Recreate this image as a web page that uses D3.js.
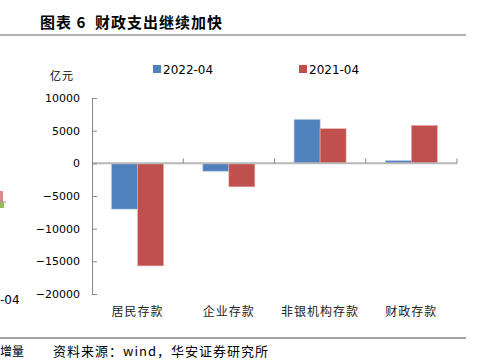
<!DOCTYPE html>
<meta charset="utf-8">
<style>
  html, body { margin: 0; padding: 0; background: #fff; }
  svg { display: block; }
  .num { font-family: "DejaVu Sans", sans-serif; font-size: 11px; fill: #000; }
  .cjk { font-family: "Noto Sans CJK SC", sans-serif; fill: #000; }
</style>
<svg id="chart" width="482" height="361"></svg>
<script src="https://cdnjs.cloudflare.com/ajax/libs/d3/7.8.5/d3.min.js"></script>
<script>
  const categories = ["居民存款", "企业存款", "非银机构存款", "财政存款"];
  const seriesNames = ["2022-04", "2021-04"];
  const v2022 = [-7000, -1200, 6700, 400];
  const v2021 = [-15700, -3600, 5300, 5800];
  const yTicks = [10000, 5000, 0, -5000, -10000, -15000, -20000];
  const colors = ["#4F81BD", "#C0504D"];

  const svg = d3.select("#chart");

  // title and rules
  svg.append("text").attr("class", "cjk")
    .attr("x", 40).attr("y", 28)
    .style("font-size", "15px").style("font-weight", "bold").style("letter-spacing", "1px")
    .attr("xml:space", "preserve")
    .text("图表 6  财政支出继续加快");
  svg.append("line").attr("x1", 0).attr("x2", 466).attr("y1", 35).attr("y2", 35)
    .attr("stroke", "#666").attr("stroke-width", 1.2);
  svg.append("line").attr("x1", 0).attr("x2", 466).attr("y1", 338).attr("y2", 338)
    .attr("stroke", "#444").attr("stroke-width", 1);
  svg.append("text").attr("class", "cjk")
    .attr("x", 53).attr("y", 356).style("font-size", "13px").style("letter-spacing", "1px")
    .text("资料来源：wind，华安证券研究所");

  // leftover bits of the neighbouring chart
  svg.append("text").attr("class", "cjk")
    .attr("x", 0).attr("y", 356).style("font-size", "12px").text("增量");
  svg.append("text").attr("class", "num")
    .attr("x", 0).attr("y", 304).style("font-size", "12px").text("-04");
  svg.append("rect").attr("x", 0).attr("y", 191).attr("width", 3).attr("height", 11).attr("fill", "#d98a88");
  svg.append("rect").attr("x", 0).attr("y", 202).attr("width", 4).attr("height", 6).attr("fill", "#9bbb59");
  svg.append("line").attr("x1", 0).attr("x2", 6).attr("y1", 202).attr("y2", 202).attr("stroke", "#999");

  // scales
  const y = d3.scaleLinear().domain([-20000, 10000]).range([294, 98]);
  const x0 = d3.scaleBand().domain(categories).range([92, 457]);
  const x1 = d3.scaleBand().domain(seriesNames).range([19.6, 71.6]);

  const rows = categories.map((c, i) => ({ cat: c, vals: [v2022[i], v2021[i]] }));

  const g = svg.append("g");
  g.selectAll("g.grp").data(rows).join("g").attr("class", "grp")
    .attr("transform", d => `translate(${x0(d.cat)},0)`)
    .selectAll("rect").data(d => d.vals.map((v, k) => ({ v, k })))
    .join("rect")
    .attr("x", d => x1(seriesNames[d.k]))
    .attr("width", x1.bandwidth())
    .attr("y", d => y(Math.max(0, d.v)))
    .attr("height", d => Math.abs(y(d.v) - y(0)))
    .attr("fill", d => colors[d.k])
    .attr("stroke", d => d.k === 0 ? "#a9c0e0" : "#e8b0ae")
    .attr("stroke-width", 0.6);

  // zero line with category ticks
  svg.append("line").attr("x1", 92).attr("x2", 457).attr("y1", y(0)).attr("y2", y(0))
    .attr("stroke", "#b8b8b8").attr("stroke-width", 2);
  const catEdges = categories.map(c => x0(c) + x0.bandwidth());
  svg.selectAll("line.ctick").data(catEdges).join("line").attr("class", "ctick")
    .attr("x1", d => d).attr("x2", d => d)
    .attr("y1", y(0) - 5).attr("y2", y(0))
    .attr("stroke", "#888");

  // y axis
  const yAxis = d3.axisLeft(y).tickValues(yTicks).tickFormat(d3.format("d"))
    .tickSizeInner(-5).tickSizeOuter(0).tickPadding(12);
  const ya = svg.append("g").attr("transform", "translate(92,0)").call(yAxis);
  ya.select(".domain").attr("stroke", "#888");
  ya.selectAll(".tick line").attr("stroke", "#888");
  ya.selectAll(".tick text").attr("class", "num").attr("fill", "#000")
    .attr("font-family", null).attr("font-size", null);

  svg.append("text").attr("class", "cjk")
    .attr("x", 50).attr("y", 80).style("font-size", "11px").style("letter-spacing", "1px").text("亿元");

  // category labels
  svg.selectAll("text.cat").data(categories).join("text").attr("class", "cjk cat")
    .attr("x", d => x0(d) + x0.bandwidth() / 2)
    .attr("y", 316).attr("text-anchor", "middle")
    .style("font-size", "12px").style("letter-spacing", "1px").style("fill", "#222")
    .text(d => d);

  // legend
  const legX = [153, 299];
  const leg = svg.selectAll("g.leg").data(seriesNames).join("g").attr("class", "leg")
    .attr("transform", (d, i) => `translate(${legX[i]},65)`);
  leg.append("rect").attr("width", 8).attr("height", 8).attr("fill", (d, i) => colors[i]);
  leg.append("text").attr("class", "num").attr("x", 10).attr("y", 9)
    .style("font-size", "12px").text(d => d);
</script>
